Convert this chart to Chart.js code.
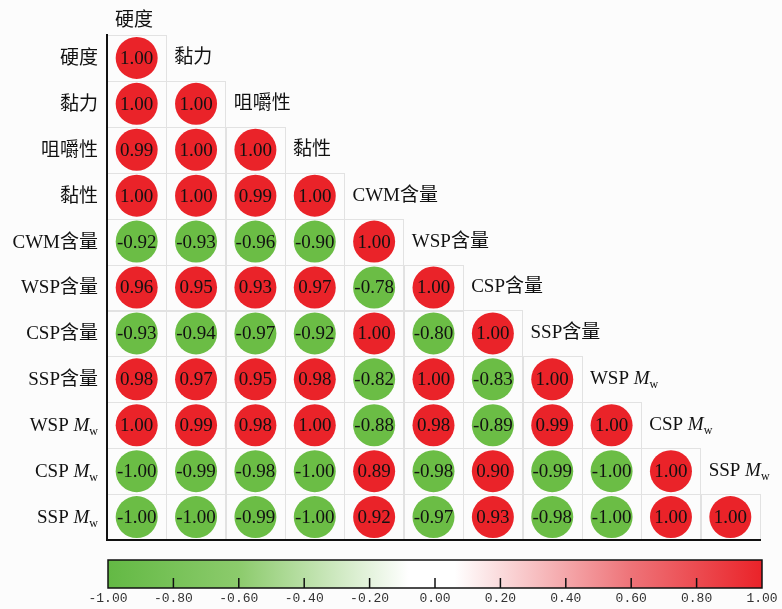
<!DOCTYPE html>
<html>
<head>
<meta charset="utf-8">
<script src="https://cdn.jsdelivr.net/npm/chart.js@4.4.0/dist/chart.umd.min.js"></script>
<style>
    html, body { margin: 0; padding: 0; background: #fcfcfc; }
    #wrap { width: 782px; height: 609px; position: relative; }
</style>
</head>
<body>
<div id="wrap"><canvas id="corrChart"></canvas></div>
<script>
// variable names (rows top->bottom, columns left->right)
const variables = ['硬度', '黏力', '咀嚼性', '黏性', 'CWM含量', 'WSP含量', 'CSP含量', 'SSP含量', 'WSP Mw', 'CSP Mw', 'SSP Mw'];

// lower triangle of the correlation matrix, one array per row
const row0 = [1.00];
const row1 = [1.00, 1.00];
const row2 = [0.99, 1.00, 1.00];
const row3 = [1.00, 1.00, 0.99, 1.00];
const row4 = [-0.92, -0.93, -0.96, -0.90, 1.00];
const row5 = [0.96, 0.95, 0.93, 0.97, -0.78, 1.00];
const row6 = [-0.93, -0.94, -0.97, -0.92, 1.00, -0.80, 1.00];
const row7 = [0.98, 0.97, 0.95, 0.98, -0.82, 1.00, -0.83, 1.00];
const row8 = [1.00, 0.99, 0.98, 1.00, -0.88, 0.98, -0.89, 0.99, 1.00];
const row9 = [-1.00, -0.99, -0.98, -1.00, 0.89, -0.98, 0.90, -0.99, -1.00, 1.00];
const row10 = [-1.00, -1.00, -0.99, -1.00, 0.92, -0.97, 0.93, -0.98, -1.00, 1.00, 1.00];
const corrRows = [row0, row1, row2, row3, row4, row5, row6, row7, row8, row9, row10];

// colour bar tick labels
const colorbarTicks = [-1.00, -0.80, -0.60, -0.40, -0.20, 0.00, 0.20, 0.40, 0.60, 0.80, 1.00];

const RED = '#ea2329';
const GREEN = '#6bbd45';
const LABEL_FONT = '"Liberation Serif", "Noto Sans CJK SC", serif';

const points = [];
corrRows.forEach((row, i) => {
    row.forEach((v, j) => points.push({ x: j, y: i, v: v }));
});

// draws a label, handling the "M_w" subscript form
function drawLabel(ctx, text, x, y, align) {
    const parts = [];
    const m = text.match(/^(.*) Mw$/);
    if (m) {
        parts.push({ t: m[1] + ' ', font: '19px ' + LABEL_FONT, dy: 0 });
        parts.push({ t: 'M', font: 'italic 19px ' + LABEL_FONT, dy: 0 });
        parts.push({ t: 'w', font: '12px ' + LABEL_FONT, dy: 6 });
    } else {
        parts.push({ t: text, font: '19px ' + LABEL_FONT, dy: 0 });
    }
    let total = 0;
    parts.forEach(p => {
        ctx.font = p.font;
        p.w = ctx.measureText(p.t).width;
        total += p.w;
    });
    let cx = align === 'right' ? x - total : x;
    ctx.textAlign = 'left';
    ctx.textBaseline = 'middle';
    ctx.fillStyle = '#111';
    parts.forEach(p => {
        ctx.font = p.font;
        ctx.fillText(p.t, cx, y + p.dy);
        cx += p.w;
    });
}

const matrixDecor = {
    id: 'matrixDecor',
    beforeDraw(chart) {
        // light grey cell borders of the lower triangle
        const { ctx, scales: { x, y } } = chart;
        const cw = x.getPixelForValue(1) - x.getPixelForValue(0);
        const ch = y.getPixelForValue(1) - y.getPixelForValue(0);
        ctx.save();
        ctx.strokeStyle = '#e2e2e2';
        ctx.lineWidth = 1;
        corrRows.forEach((row, i) => {
            row.forEach((v, j) => {
                const px = x.getPixelForValue(j) - cw / 2;
                const py = y.getPixelForValue(i) - ch / 2;
                ctx.strokeRect(Math.round(px) + 0.5, Math.round(py) + 0.5, Math.round(cw), Math.round(ch));
            });
        });
        ctx.restore();
    },
    afterDatasetsDraw(chart) {
        const { ctx, chartArea, scales: { x, y } } = chart;
        ctx.save();

        // values inside circles
        const meta = chart.getDatasetMeta(0);
        ctx.font = '19px ' + LABEL_FONT;
        ctx.textAlign = 'center';
        ctx.textBaseline = 'middle';
        ctx.fillStyle = '#111';
        meta.data.forEach((el, k) => {
            ctx.fillText(points[k].v.toFixed(2), el.x, el.y + 1);
        });

        // row labels on the left
        variables.forEach((name, i) => {
            drawLabel(ctx, name, chartArea.left - 9, y.getPixelForValue(i) + 1, 'right');
        });

        // column labels along the diagonal
        variables.forEach((name, j) => {
            const ly = Math.max(y.getPixelForValue(j - 1), chartArea.top - 14);
            drawLabel(ctx, name, x.getPixelForValue(j - 0.5) + 8, ly, 'left');
        });

        // colour bar
        const left = chartArea.left + 1;
        const right = chartArea.right + 2;
        const top = chartArea.bottom + 20;
        const bottom = top + 28;
        const grad = ctx.createLinearGradient(left, 0, right, 0);
        grad.addColorStop(0, '#63b944');
        grad.addColorStop(0.2, '#8ccb6c');
        grad.addColorStop(0.46, '#ffffff');
        grad.addColorStop(0.53, '#ffffff');
        grad.addColorStop(0.8, '#ee7378');
        grad.addColorStop(1, RED);
        ctx.fillStyle = grad;
        ctx.fillRect(left, top, right - left, bottom - top);
        ctx.strokeStyle = '#111';
        ctx.lineWidth = 1.5;
        ctx.strokeRect(left, top, right - left, bottom - top);

        ctx.font = '13px "Liberation Mono", monospace';
        ctx.fillStyle = '#333';
        ctx.textAlign = 'center';
        ctx.textBaseline = 'middle';
        colorbarTicks.forEach((t, k) => {
            const px = left + (t + 1) / 2 * (right - left);
            if (k > 0 && k < colorbarTicks.length - 1) {
                ctx.beginPath();
                ctx.moveTo(px, bottom - 10);
                ctx.lineTo(px, bottom);
                ctx.stroke();
            }
            ctx.fillText(t.toFixed(2), px, bottom + 11);
        });

        ctx.restore();
    }
};

new Chart(document.getElementById('corrChart'), {
    type: 'scatter',
    data: {
        datasets: [{
            data: points,
            pointRadius: 21,
            pointHoverRadius: 21,
            pointBorderWidth: 0,
            pointBackgroundColor: c => (c.raw && c.raw.v < 0 ? GREEN : RED)
        }]
    },
    options: {
        responsive: true,
        maintainAspectRatio: false,
        animation: false,
        events: [],
        layout: {
            padding: { left: 107, top: 35, right: 22, bottom: 69 }
        },
        plugins: {
            legend: { display: false },
            tooltip: { enabled: false }
        },
        scales: {
            x: {
                type: 'linear',
                min: -0.5,
                max: 10.5,
                grid: { display: false },
                ticks: { display: false },
                border: { display: true, color: '#111', width: 2 },
                afterFit: s => { s.height = 0; }
            },
            y: {
                type: 'linear',
                min: -0.5,
                max: 10.5,
                reverse: true,
                grid: { display: false },
                ticks: { display: false },
                border: { display: true, color: '#111', width: 2 },
                afterFit: s => { s.width = 0; }
            }
        }
    },
    plugins: [matrixDecor]
});
</script>
</body>
</html>
